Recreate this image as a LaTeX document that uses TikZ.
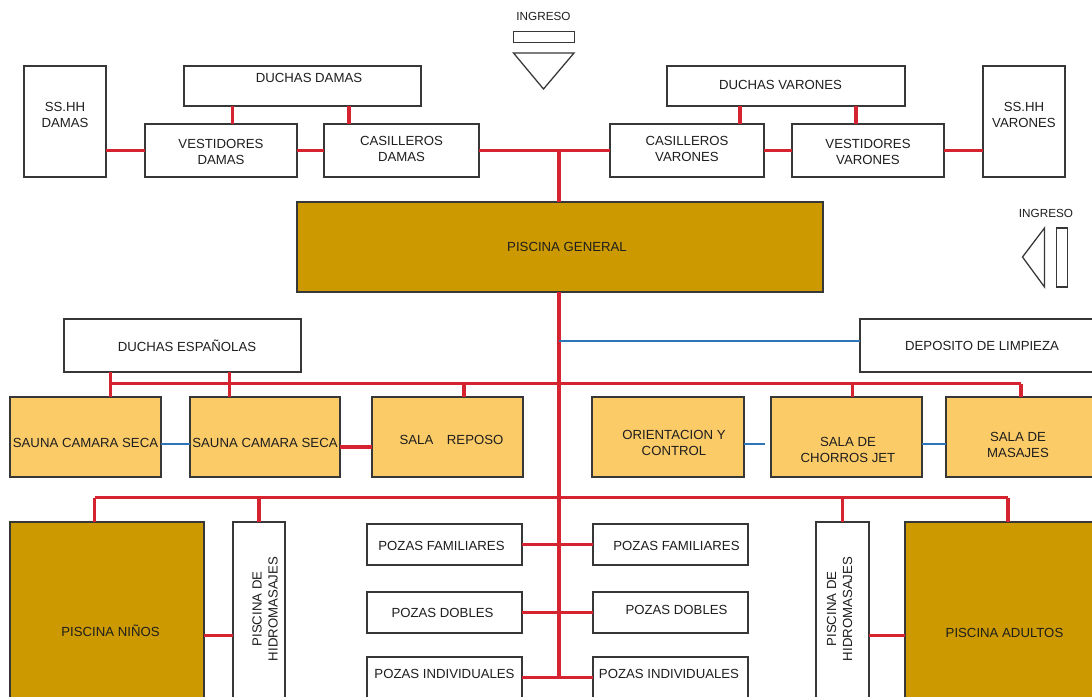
\documentclass[tikz,border=0pt]{standalone}
\usepackage{fontspec}
\setmainfont{Liberation Sans}
\newcommand\pxu{0.75pt}
\definecolor{redln}{RGB}{214,35,48}
\definecolor{blueln}{RGB}{46,117,182}
\definecolor{poolgold}{RGB}{204,153,0}
\definecolor{peach}{RGB}{251,203,104}
\definecolor{ink}{RGB}{30,30,30}
\definecolor{edge}{RGB}{55,55,55}
\begin{document}
\begin{tikzpicture}[x=0.75pt,y=-0.75pt,
  box/.style={draw=edge, line width=0.95pt, rectangle, inner sep=0pt, outer sep=0pt},
  wbox/.style={box, fill=white},
  obox/.style={box, fill=peach},
  gbox/.style={box, fill=poolgold},
  sz/.style 2 args={minimum width=#1*\pxu, minimum height=#2*\pxu},
  lbl/.style={text=ink, align=center, inner sep=0pt, font=\fontsize{9.9}{12}\selectfont},
  smalllbl/.style={text=ink, align=center, inner sep=0pt, font=\fontsize{8.8}{10}\selectfont},
  sym/.style={draw=edge, line width=0.95pt},
  rline/.style={draw=redln, line width=2.3pt},
  bline/.style={draw=blueln, line width=1.5pt},
]
\clip (0,0) rectangle (1092,696);
\fill[white] (0,0) rectangle (1092,696);

% ---------- entrance symbols ----------
\node[smalllbl] (ing1) at (543.5,16) {INGRESO};
\node[box, fill=white, sz={61}{11}] (ing1r) at (543.75,37) {};
\draw[sym] (513.5,53) -- (574,53) -- (543.5,89) -- cycle;
\node[smalllbl] (ing2) at (1046,213) {INGRESO};
\draw[sym] (1044.5,228) -- (1044.5,287) -- (1022.5,257) -- cycle;
\node[box, fill=white, sz={11}{59}] (ing2r) at (1061.75,257.5) {};

% ---------- top row ----------
\node[wbox, sz={82}{111}, label={[lbl,yshift=6.5*\pxu]center:SS.HH\\DAMAS}] (sshhd) at (65,121.5) {};
\node[wbox, sz={237}{40}, label={[lbl,xshift=6.5*\pxu,yshift=8*\pxu]center:DUCHAS DAMAS}] (duchasd) at (302.5,86) {};
\node[wbox, sz={152}{53}, label={[lbl,yshift=-1.5*\pxu]center:VESTIDORES\\DAMAS}] (vestd) at (221,150.5) {};
\node[wbox, sz={155}{53}, label={[lbl,yshift=1.5*\pxu]center:CASILLEROS\\DAMAS}] (casd) at (401.5,150.5) {};
\node[wbox, sz={238}{40}, label={[lbl,xshift=-5.5*\pxu,yshift=1.5*\pxu]center:DUCHAS VARONES}] (duchasv) at (786,86) {};
\node[wbox, sz={154}{53}, label={[lbl,yshift=1.5*\pxu]center:CASILLEROS\\VARONES}] (casv) at (687,150.5) {};
\node[wbox, sz={152}{53}, label={[lbl,yshift=-1.5*\pxu]center:VESTIDORES\\VARONES}] (vestv) at (868,150.5) {};
\node[wbox, sz={82}{111}, label={[lbl,yshift=6.5*\pxu]center:SS.HH\\VARONES}] (sshhv) at (1024,121.5) {};

% ---------- main pool ----------
\node[gbox, sz={526}{90}, label={[lbl,xshift=7*\pxu]center:PISCINA GENERAL}] (pgen) at (560,247) {};

% ---------- middle rows ----------
\node[wbox, sz={240}{53}, label={[lbl,xshift=2*\pxu]center:DEPOSITO DE LIMPIEZA}] (dep) at (980,345.5) {};
\node[wbox, sz={237}{53}, label={[lbl,xshift=4.5*\pxu]center:DUCHAS ESPAÑOLAS}] (duchase) at (182.5,345.5) {};
\node[obox, sz={151}{80}, label={[lbl,yshift=-6*\pxu]center:SAUNA CAMARA SECA}] (sauna1) at (85.5,437) {};
\node[obox, sz={150}{80}, label={[lbl,yshift=-6*\pxu]center:SAUNA CAMARA SECA}] (sauna2) at (265,437) {};
\node[obox, sz={151}{80}, label={[lbl,xshift=4*\pxu,yshift=-3*\pxu]center:SALA\hspace{7.5pt} REPOSO}] (reposo) at (447.5,437) {};
\node[obox, sz={152}{80}, label={[lbl,xshift=6*\pxu,yshift=-6*\pxu]center:ORIENTACION Y\\CONTROL}] (orient) at (668,437) {};
\node[obox, sz={151}{80}, label={[lbl,xshift=1.5*\pxu,yshift=-13*\pxu]center:SALA DE\\CHORROS JET}] (chorros) at (846.5,437) {};
\node[obox, sz={151}{80}, label={[lbl,xshift=-3.5*\pxu,yshift=-8*\pxu]center:SALA DE\\MASAJES}] (masajes) at (1021.5,437) {};

% ---------- bottom ----------
\node[gbox, sz={194}{218}, label={[lbl,xshift=3.5*\pxu]center:PISCINA NIÑOS}] (ninos) at (107,631) {};
\node[wbox, sz={52}{218}] (hidrol) at (259,631) {};
\node[lbl, rotate=90] (hidroltxt) at ([xshift=4.5pt,yshift=16.5pt]hidrol.center) {PISCINA DE\\HIDROMASAJES};
\node[wbox, sz={53}{218}] (hidror) at (842.5,631) {};
\node[lbl, rotate=90] (hidrortxt) at ([xshift=-2.25pt,yshift=16.5pt]hidror.center) {PISCINA DE\\HIDROMASAJES};
\node[gbox, sz={195}{218}, label={[lbl,xshift=2*\pxu,yshift=-1.5*\pxu]center:PISCINA ADULTOS}] (adultos) at (1002.5,631) {};

\node[wbox, sz={155}{41}, label={[lbl,xshift=-3*\pxu,yshift=-1.5*\pxu]center:POZAS FAMILIARES}] (pfaml) at (444.5,544.5) {};
\node[wbox, sz={155}{41}, label={[lbl,xshift=6*\pxu,yshift=-1.5*\pxu]center:POZAS FAMILIARES}] (pfamr) at (670.5,544.5) {};
\node[wbox, sz={155}{41}, label={[lbl,xshift=-2*\pxu]center:POZAS DOBLES}] (pdobl) at (444.5,612.5) {};
\node[wbox, sz={155}{41}, label={[lbl,xshift=6*\pxu,yshift=2.5*\pxu]center:POZAS DOBLES}] (pdobr) at (670.5,612.5) {};
\node[wbox, sz={155}{41}, label={[lbl,yshift=3.5*\pxu]center:POZAS INDIVIDUALES}] (pindl) at (444.5,677.5) {};
\node[wbox, sz={155}{41}, label={[lbl,xshift=-1.5*\pxu,yshift=3.5*\pxu]center:POZAS INDIVIDUALES}] (pindr) at (670.5,677.5) {};

% ---------- connectors: top ----------
\draw[rline] (vestd.west) -- (vestd.west -| sshhd.east);
\draw[rline] (vestd.east) -- (casd.west);
\draw[rline] (232.5,0 |- duchasd.south) -- (232.5,0 |- vestd.north);
\draw[rline] (349,0 |- duchasd.south) -- (349,0 |- casd.north);
\draw[rline] (casd.east) -- (casv.west);
\draw[rline] (559,0 |- casd.east) -- (559,0 |- pgen.north);
\draw[rline] (740,0 |- duchasv.south) -- (740,0 |- casv.north);
\draw[rline] (856,0 |- duchasv.south) -- (856,0 |- vestv.north);
\draw[rline] (casv.east) -- (vestv.west);
\draw[rline] (vestv.east) -- (vestv.east -| sshhv.west);

% ---------- trunk ----------
\draw[rline] (559,0 |- pgen.south) -- (559,0 |- pindl.east);
\draw[bline] (559,340.5) -- (dep.west |- 0,340.5);

% ---------- middle bus ----------
\coordinate (busL) at (110.7,383.5);
\coordinate (busR) at (1021,383.5);
\draw[rline] (busL) -- (busR);
\draw[rline] (110.7,0 |- duchase.south) -- (110.7,0 |- sauna1.north);
\draw[rline] (229.7,0 |- duchase.south) -- (229.7,0 |- sauna2.north);
\draw[rline] (464,0 |- busL) -- (464,0 |- reposo.north);
\draw[rline] (852.5,0 |- busL) -- (852.5,0 |- chorros.north);
\draw[rline] (busR) -- (busR |- masajes.north);
\draw[bline] (sauna1.east |- 0,443.5) -- (sauna2.west |- 0,443.5);
\draw[rline] (sauna2.east |- 0,447) -- (reposo.west |- 0,447);
\coordinate (orientfree) at (765,444);
\draw[bline] (orient.east |- orientfree) -- (orientfree);
\draw[bline] (chorros.east |- 0,444) -- (masajes.west |- 0,444);

% ---------- bottom bus ----------
\coordinate (bus2L) at (94.5,497.5);
\coordinate (bus2R) at (1008,497.5);
\draw[rline] (bus2L) -- (bus2R);
\draw[rline] (bus2L) -- (bus2L |- ninos.north);
\draw[rline] (259,0 |- bus2L) -- (259,0 |- hidrol.north);
\draw[rline] (842.5,0 |- bus2L) -- (842.5,0 |- hidror.north);
\draw[rline] (bus2R) -- (bus2R |- adultos.north);
\draw[rline] (ninos.east |- 0,635.5) -- (hidrol.west |- 0,635.5);
\draw[rline] (hidror.east |- 0,635.5) -- (adultos.west |- 0,635.5);

% ---------- pozas ----------
\draw[rline] (pfaml.east) -- (pfamr.west);
\draw[rline] (pdobl.east) -- (pdobr.west);
\draw[rline] (pindl.east) -- (pindr.west);
\end{tikzpicture}
\end{document}
